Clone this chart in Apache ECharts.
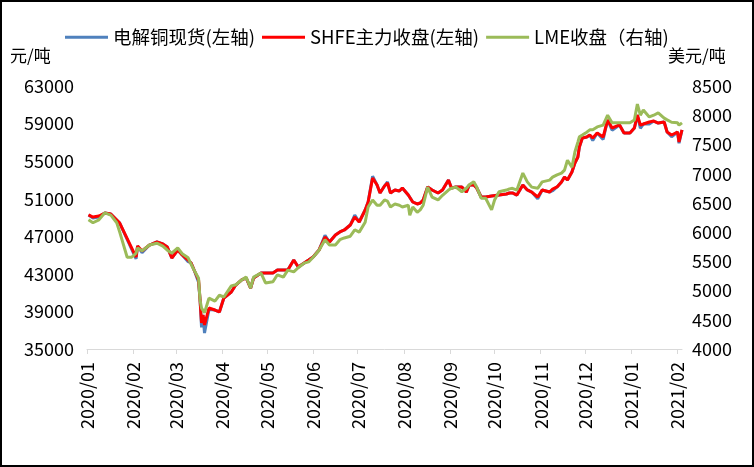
<!DOCTYPE html>
<html>
<head>
<meta charset="utf-8">
<script src="https://cdn.jsdelivr.net/npm/echarts@6/dist/echarts.min.js"></script>
<style>
html,body{margin:0;padding:0;background:#fff;}
#chart{width:754px;height:467px;}
</style>
</head>
<body>
<div id="chart"></div>
<script>
const dates = ['2020-01-02','2020-01-05','2020-01-09','2020-01-13','2020-01-17','2020-01-21','2020-01-23','2020-01-28','2020-01-31','2020-02-03',
'2020-02-04','2020-02-07','2020-02-12','2020-02-17','2020-02-21','2020-02-24','2020-02-27','2020-03-02','2020-03-05','2020-03-09',
'2020-03-11','2020-03-13','2020-03-16','2020-03-17','2020-03-18','2020-03-19','2020-03-20','2020-03-23','2020-03-27','2020-03-30',
'2020-04-02','2020-04-07','2020-04-10','2020-04-14','2020-04-17','2020-04-20','2020-04-22','2020-04-27','2020-04-30','2020-05-05',
'2020-05-08','2020-05-12','2020-05-15','2020-05-19','2020-05-22','2020-05-26','2020-05-29','2020-06-01','2020-06-05','2020-06-09',
'2020-06-12','2020-06-16','2020-06-19','2020-06-22','2020-06-26','2020-06-29','2020-07-02','2020-07-06','2020-07-08','2020-07-11',
'2020-07-14','2020-07-16','2020-07-19','2020-07-21','2020-07-23','2020-07-26','2020-07-29','2020-07-31','2020-08-04','2020-08-05',
'2020-08-07','2020-08-10','2020-08-12','2020-08-14','2020-08-17','2020-08-20','2020-08-24','2020-08-27','2020-08-31','2020-09-02',
'2020-09-05','2020-09-09','2020-09-12','2020-09-14','2020-09-17','2020-09-19','2020-09-22','2020-09-25','2020-09-29','2020-10-01',
'2020-10-04','2020-10-09','2020-10-11','2020-10-13','2020-10-16','2020-10-20','2020-10-23','2020-10-26','2020-10-30','2020-11-02',
'2020-11-07','2020-11-09','2020-11-12','2020-11-15','2020-11-17','2020-11-19','2020-11-22','2020-11-24','2020-11-26','2020-11-27',
'2020-11-29','2020-12-02','2020-12-04','2020-12-06','2020-12-09','2020-12-13','2020-12-16','2020-12-19','2020-12-24','2020-12-27',
'2020-12-31','2021-01-03','2021-01-05','2021-01-07','2021-01-09','2021-01-13','2021-01-16','2021-01-19','2021-01-23','2021-01-25',
'2021-01-28','2021-02-01','2021-02-02','2021-02-04'];

// SHFE主力收盘 (左轴)
const shfe = [49270,49050,49160,49480,49370,48730,48410,null,null,44790,
45970,45430,46070,46390,46180,45860,44690,45540,45010,44470,
44160,43410,42350,40220,37770,38620,37560,39360,39150,38940,
40430,41070,41810,42350,42560,41490,42560,43090,43090,43090,
43410,43410,43410,44470,43730,44160,44470,44790,45540,46920,
46390,47140,47460,47670,48200,49050,48520,49800,50650,53200,
52460,51610,52350,52670,51610,51930,51820,52140,51390,51500,
50650,50440,50540,50860,52250,51930,51610,51930,52990,52140,
52250,52250,51710,52460,52460,52140,51180,51180,51290,null,
null,51500,51610,51610,51390,52460,51930,51710,51180,51930,
51710,52030,52250,52780,53310,52990,53840,54800,55440,56500,
57460,57570,57780,57460,58000,57570,59380,58530,58850,58000,
58000,58530,59910,58850,58950,59170,59270,59060,59170,58100,
57780,58100,57040,58320];

// 电解铜现货 (左轴)
const spot = [49270,48950,49050,49480,49370,48730,48410,null,null,44600,
45970,45250,46070,46390,46180,45860,44690,45540,45010,44300,
44160,43410,42100,40220,37300,38620,36700,39200,39150,38940,
40430,41070,41810,42350,42560,41490,42560,43090,43090,43090,
43410,43410,43410,44470,43730,44160,44470,44790,45540,47100,
46390,47140,47460,47670,48200,49250,48520,49800,50650,53400,
52460,51610,52350,52800,51610,51930,51820,52140,51390,51500,
50650,50440,50540,50860,52250,51930,51610,51930,52990,52140,
52250,52250,51710,52460,52460,52140,51180,51180,51290,null,
null,51500,51610,51610,51390,52460,51930,51710,51000,51930,
51710,51850,52250,52780,53310,52990,53840,54800,55440,56500,
57460,57570,57780,57200,58000,57300,59380,58300,58850,58000,
58000,58530,59910,58500,58950,58950,59270,59060,59170,58100,
57600,58100,56900,58320];

// LME收盘 (右轴)
const lme = [6210,6160,6210,6330,6290,6160,6000,5570,5570,5640,
5730,5680,5780,5810,5760,5690,5640,5730,5630,5560,
5450,5350,5210,4840,4700,4670,4620,4870,4820,4920,
4890,5080,5100,5180,5230,5040,5230,5300,5130,5150,
5270,5230,5350,5320,5390,5470,5490,5570,5690,5870,
5780,5780,5870,5900,5930,6040,6000,6170,6430,6550,
6460,6460,6550,6530,6430,6480,6460,6430,6460,6290,
6430,6340,6380,6460,6770,6600,6550,6630,6720,6750,
6770,6690,6750,6810,6860,6770,6580,6580,6380,6550,
6690,6720,6740,6750,6720,7010,6860,6770,6750,6860,
6890,6940,6980,7010,7060,7230,7110,7370,7540,7630,
7660,7710,7750,7750,7800,7830,8000,7870,7870,7870,
7870,7920,8190,8000,8090,7970,8000,8040,7950,7920,
7880,7870,7830,7870];

const tickLabels = ['2020/01','2020/02','2020/03','2020/04','2020/05','2020/06','2020/07',
'2020/08','2020/09','2020/10','2020/11','2020/12','2021/01','2021/02'];

const seriesNames = ['电解铜现货(左轴)','SHFE主力收盘(左轴)','LME收盘（右轴)'];

function toTs(s){ const p = s.split(/[-\/]/).map(Number); return new Date(p[0], p[1]-1, p[2]||1).getTime(); }
const tickValues = tickLabels.map(toTs);
function pairs(vals){ return dates.map((d,i)=>[toTs(d), vals[i]]); }
function fmt(v){ const d=new Date(v); const m=d.getMonth()+1; return d.getFullYear()+'/'+(m<10?'0'+m:m); }

const FONT = '"Noto Sans CJK SC","Noto Sans",sans-serif';
const chart = echarts.init(document.getElementById('chart'), null, {renderer:'canvas'});
chart.setOption({
  animation:false,
  backgroundColor:'#fff',
  textStyle:{fontFamily:FONT},
  legend:{
    left:60, top:23, icon:'rect', itemWidth:43, itemHeight:3, itemGap:7,
    textStyle:{fontSize:18.5, color:'#000', fontFamily:FONT},
    data:seriesNames
  },
  grid:{left:87, right:72, top:86, bottom:118},
  xAxis:{
    type:'value',
    min:toTs('2020-01-01'), max:toTs('2021-02-04'),
    axisLine:{show:true, lineStyle:{color:'#d9d9d9', width:1}},
    axisTick:{show:true, length:5, lineStyle:{color:'#d9d9d9'}, customValues:tickValues},
    axisLabel:{rotate:90, margin:13, fontSize:18, color:'#000', fontFamily:FONT, customValues:tickValues,
      formatter:function(v){ return fmt(v); }},
    splitLine:{show:false}
  },
  yAxis:[
    {type:'value', min:35000, max:63000, interval:4000,
      axisLine:{show:false}, axisTick:{show:false}, splitLine:{show:false},
      axisLabel:{fontSize:18, color:'#000', margin:13, fontFamily:FONT, formatter:function(v){return String(v);}}},
    {type:'value', min:4000, max:8500, interval:500, position:'right',
      axisLine:{show:false}, axisTick:{show:false}, splitLine:{show:false},
      axisLabel:{fontSize:18, color:'#000', margin:10, fontFamily:FONT, formatter:function(v){return String(v);}}}
  ],
  graphic:[
    {type:'text', left:10, top:47, style:{text:'元/吨', fill:'#000', font:'17px '+FONT}},
    {type:'text', left:668, top:47, style:{text:'美元/吨', fill:'#000', font:'17px '+FONT}},
    {type:'rect', shape:{x:1, y:1, width:752, height:465}, style:{fill:'none', stroke:'#000', lineWidth:2}, silent:true}
  ],
  series:[
    {name:seriesNames[0], type:'line', yAxisIndex:0, data:pairs(spot), showSymbol:false, connectNulls:true,
      color:'#4f81bd', lineStyle:{width:3, color:'#4f81bd'}},
    {name:seriesNames[1], type:'line', yAxisIndex:0, data:pairs(shfe), showSymbol:false, connectNulls:true,
      color:'#ff0000', lineStyle:{width:3, color:'#ff0000'}},
    {name:seriesNames[2], type:'line', yAxisIndex:1, data:pairs(lme), showSymbol:false, connectNulls:true,
      color:'#9bbb59', lineStyle:{width:3, color:'#9bbb59'}}
  ]
});
</script>
</body>
</html>
